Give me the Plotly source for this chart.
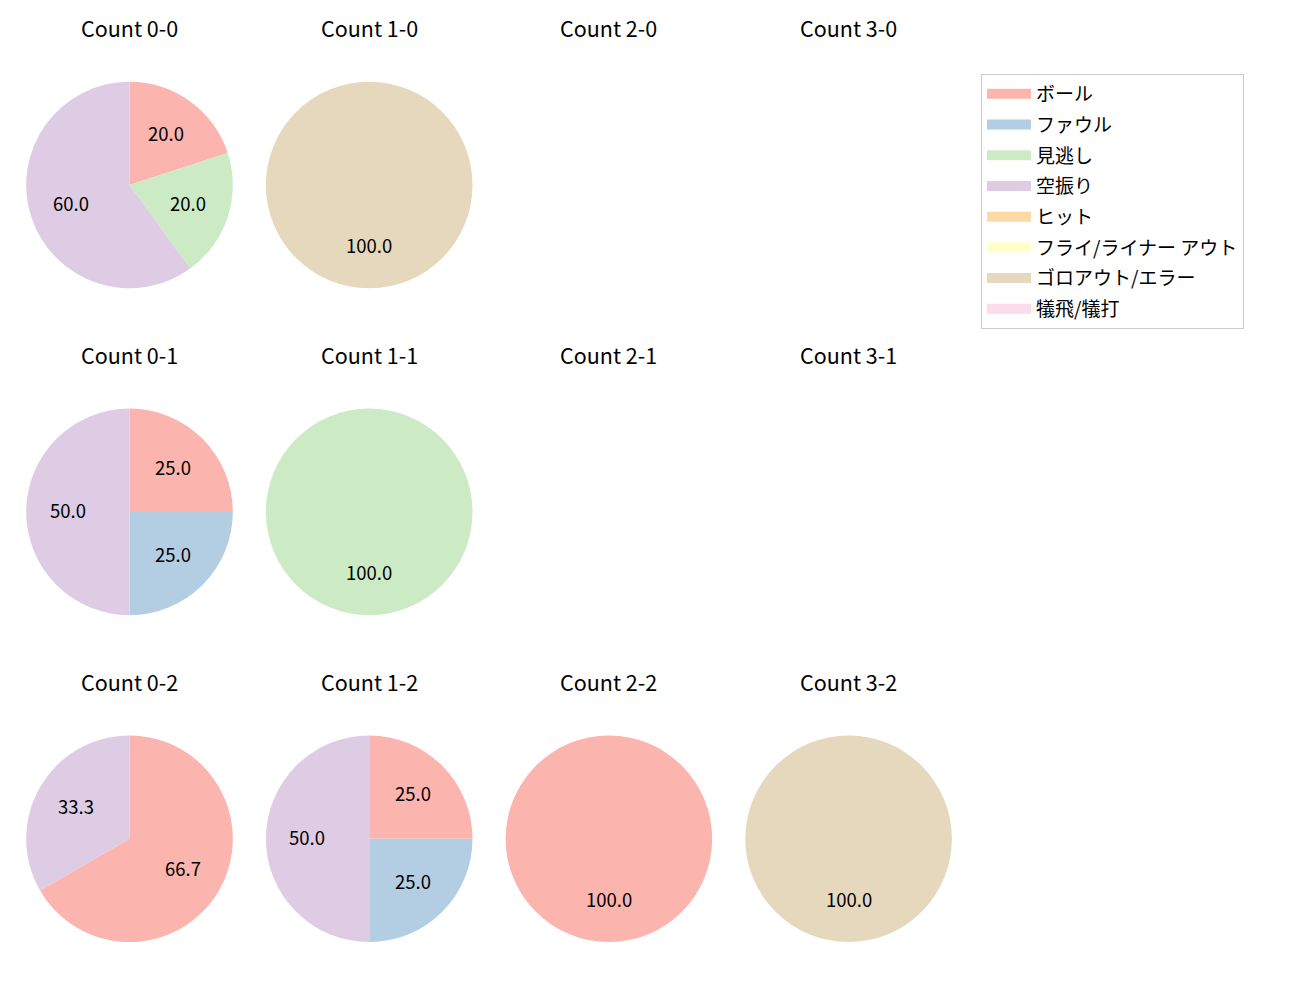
import math
import plotly.graph_objects as go

# ---- data ----
categories = ["ボール", "ファウル", "見逃し", "空振り", "ヒット",
              "フライ/ライナー アウト", "ゴロアウト/エラー", "犠飛/犠打"]
colors = ["#fbb4ae", "#b3cde3", "#ccebc5", "#decbe4", "#fed9a6",
          "#ffffcc", "#e5d8bd", "#fddaec"]

balls = [0, 1, 2, 3]
strikes = [0, 1, 2]

values_0_0 = [1, 0, 1, 3, 0, 0, 0, 0]
values_1_0 = [0, 0, 0, 0, 0, 0, 1, 0]
values_2_0 = [0, 0, 0, 0, 0, 0, 0, 0]
values_3_0 = [0, 0, 0, 0, 0, 0, 0, 0]
values_0_1 = [1, 1, 0, 2, 0, 0, 0, 0]
values_1_1 = [0, 0, 1, 0, 0, 0, 0, 0]
values_2_1 = [0, 0, 0, 0, 0, 0, 0, 0]
values_3_1 = [0, 0, 0, 0, 0, 0, 0, 0]
values_0_2 = [2, 0, 0, 1, 0, 0, 0, 0]
values_1_2 = [1, 1, 0, 2, 0, 0, 0, 0]
values_2_2 = [1, 0, 0, 0, 0, 0, 0, 0]
values_3_2 = [0, 0, 0, 0, 0, 0, 1, 0]

grid = {
    (0, 0): values_0_0, (1, 0): values_1_0, (2, 0): values_2_0, (3, 0): values_3_0,
    (0, 1): values_0_1, (1, 1): values_1_1, (2, 1): values_2_1, (3, 1): values_3_1,
    (0, 2): values_0_2, (1, 2): values_1_2, (2, 2): values_2_2, (3, 2): values_3_2,
}

# ---- layout constants (pixels) ----
W, H = 1300, 1000
X0, DX = 129.5, 239.7
Y0, DY = 185.0, 326.9
R = 103.3
TITLE_Y0 = 27.5
FONT = "Noto Sans CJK JP, DejaVu Sans, sans-serif"

fig = go.Figure()
annotations = []

for (b, s), vals in grid.items():
    cx = X0 + DX * b
    cy = Y0 + DY * s
    annotations.append(dict(
        x=cx / W, y=1 - (TITLE_Y0 + DY * s) / H, xref="paper", yref="paper",
        text=f"Count {b}-{s}", showarrow=False, xanchor="center", yanchor="middle",
        font=dict(size=21.5, color="#000000", family=FONT)))
    total = sum(vals)
    if total == 0:
        continue
    labs = [c for c, v in zip(categories, vals) if v > 0]
    vs = [v for v in vals if v > 0]
    cols = [col for col, v in zip(colors, vals) if v > 0]
    fig.add_trace(go.Pie(
        labels=labs, values=vs, sort=False, direction="clockwise", rotation=0,
        marker=dict(colors=cols, line=dict(width=0)),
        textinfo="none", hoverinfo="label+percent", showlegend=False,
        domain=dict(x=[(cx - R) / W, (cx + R) / W],
                    y=[1 - (cy + R) / H, 1 - (cy - R) / H])))
    cum = 0.0
    for v in vs:
        mid = (cum + v / 2) / total
        cum += v
        th = 2 * math.pi * mid
        tx = cx + 0.6 * R * math.sin(th)
        ty = cy - 0.6 * R * math.cos(th) - 1.5
        annotations.append(dict(
            x=tx / W, y=1 - ty / H, xref="paper", yref="paper",
            text=f"{v / total * 100:.1f}", showarrow=False,
            xanchor="center", yanchor="middle",
            font=dict(size=18.5, color="#000000", family=FONT)))

# legend entries
for cat, col in zip(categories, colors):
    fig.add_trace(go.Scatter(x=[None], y=[None], name=cat, mode="lines",
                             line=dict(color=col, width=14),
                             legendgroup=cat, showlegend=True))

fig.update_layout(
    width=W, height=H,
    margin=dict(l=0, r=0, t=0, b=0),
    paper_bgcolor="white", plot_bgcolor="white",
    xaxis=dict(visible=False), yaxis=dict(visible=False),
    annotations=annotations,
    font=dict(family=FONT, size=18.5, color="#000000"),
    legend=dict(x=981 / W, y=1 - 74 / H, xanchor="left", yanchor="top",
                bgcolor="white", bordercolor="#cccccc", borderwidth=1,
                tracegroupgap=3, itemwidth=44,
                font=dict(size=19, family=FONT)),
)

fig.write_html("out.html")
